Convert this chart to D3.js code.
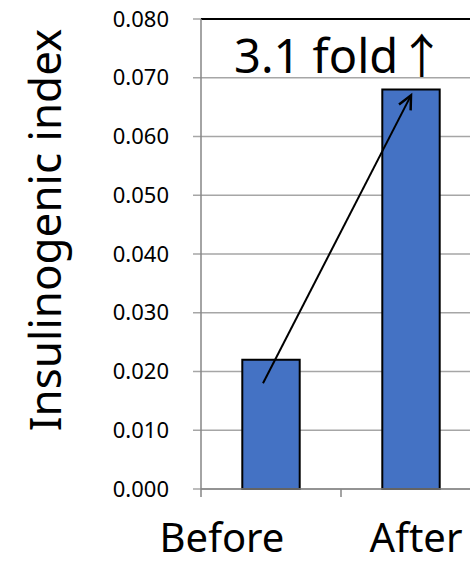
<!DOCTYPE html>
<html>
<head>
<meta charset="utf-8">
<script src="https://cdn.jsdelivr.net/npm/d3@7"></script>
<style>
  html, body { margin: 0; padding: 0; background: #fff; }
  svg { display: block; }
  text { font-family: "Noto Sans", "Noto Sans CJK JP", sans-serif; fill: #000; }
</style>
</head>
<body>
<svg id="chart" width="470" height="563"></svg>
<script>
// Insulinogenic index before and after treatment
const categories = ["Before", "After"];
const values = [0.022, 0.068];
const yTicks = [0, 0.01, 0.02, 0.03, 0.04, 0.05, 0.06, 0.07, 0.08];
const yTickLabels = ["0.000", "0.010", "0.020", "0.030", "0.040", "0.050", "0.060", "0.070", "0.080"];
const yTitle = "Insulinogenic index";
const annotation = "3.1 fold↑";
// change arrow: start near the Before bar, tip near the top of the After bar
const arrowCats = ["Before", "After"];
const arrowValues = [0.018, 0.067];

const svg = d3.select("#chart");
const plotLeft = 201, plotRight = 481, plotTop = 19, plotBottom = 489;

const x = d3.scaleBand().domain(categories).range([plotLeft, plotRight]).padding(0);
const y = d3.scaleLinear().domain([0, 0.08]).range([plotBottom, plotTop]);
const barW = x.bandwidth() * 0.41;
const labelShift = { Before: -49, After: 5 };

// horizontal gridlines (outward tick included)
svg.append("g").selectAll("line")
  .data(yTicks.slice(0, -1))
  .join("line")
  .attr("x1", plotLeft - 8).attr("x2", 470)
  .attr("y1", d => y(d)).attr("y2", d => y(d))
  .attr("stroke", "#a6a6a6").attr("stroke-width", 1.5);

// top border line
svg.append("line")
  .attr("x1", plotLeft - 8).attr("x2", plotLeft).attr("y1", y(0.08)).attr("y2", y(0.08))
  .attr("stroke", "#a6a6a6").attr("stroke-width", 1.5);
svg.append("line")
  .attr("x1", plotLeft).attr("x2", 470).attr("y1", y(0.08)).attr("y2", y(0.08))
  .attr("stroke", "#000").attr("stroke-width", 2);

// y tick labels
svg.append("g").selectAll("text")
  .data(yTicks)
  .join("text")
  .attr("x", 169).attr("y", d => y(d))
  .attr("dy", "0.35em")
  .attr("text-anchor", "end")
  .attr("font-size", 22)
  .text((d, i) => yTickLabels[i]);

// bars
svg.append("g").selectAll("rect")
  .data(values)
  .join("rect")
  .attr("x", (d, i) => x(categories[i]) + x.bandwidth() / 2 - barW / 2)
  .attr("y", d => y(d))
  .attr("width", barW)
  .attr("height", d => y(0) - y(d))
  .attr("fill", "#4472c4")
  .attr("stroke", "#000").attr("stroke-width", 2);

// axis lines
svg.append("line")
  .attr("x1", plotLeft).attr("x2", plotLeft).attr("y1", plotTop).attr("y2", plotBottom + 8)
  .attr("stroke", "#868686").attr("stroke-width", 1.5);
svg.append("line")
  .attr("x1", plotLeft).attr("x2", 470).attr("y1", plotBottom).attr("y2", plotBottom)
  .attr("stroke", "#868686").attr("stroke-width", 1.5);
svg.append("g").selectAll("line")
  .data(categories.slice(1))
  .join("line")
  .attr("x1", d => x(d)).attr("x2", d => x(d))
  .attr("y1", plotBottom).attr("y2", plotBottom + 8)
  .attr("stroke", "#868686").attr("stroke-width", 1.5);

// category labels
svg.append("g").selectAll("text")
  .data(categories)
  .join("text")
  .attr("x", d => x(d) + x.bandwidth() / 2 + labelShift[d])
  .attr("y", 552)
  .attr("text-anchor", "middle")
  .attr("font-size", 40)
  .text(d => d);

// y axis title
svg.append("text")
  .attr("transform", "translate(61,230) rotate(-90)")
  .attr("text-anchor", "middle")
  .attr("font-size", 44)
  .text(yTitle);

// arrow
const ax1 = x(arrowCats[0]) + x.bandwidth() / 2 - 8, ay1 = y(arrowValues[0]);
const ax2 = x(arrowCats[1]) + x.bandwidth() / 2, ay2 = y(arrowValues[1]);
svg.append("line")
  .attr("x1", ax1).attr("y1", ay1).attr("x2", ax2).attr("y2", ay2)
  .attr("stroke", "#000").attr("stroke-width", 2);
const ang = Math.atan2(ay2 - ay1, ax2 - ax1);
const hl = 15, spread = 0.45;
svg.append("path")
  .attr("d", `M${ax2 - hl * Math.cos(ang - spread)},${ay2 - hl * Math.sin(ang - spread)} L${ax2},${ay2} L${ax2 - hl * Math.cos(ang + spread)},${ay2 - hl * Math.sin(ang + spread)}`)
  .attr("fill", "none").attr("stroke", "#000").attr("stroke-width", 2.5);

// fold-change annotation
svg.append("text")
  .attr("x", 234).attr("y", 73)
  .attr("font-size", 47)
  .text(annotation);
</script>
</body>
</html>
